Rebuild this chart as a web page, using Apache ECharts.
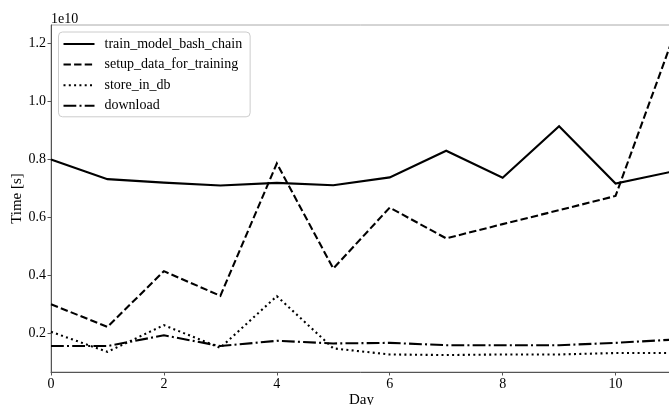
<!DOCTYPE html>
<html>
<head>
<meta charset="utf-8">
<script src="https://cdn.jsdelivr.net/npm/echarts@6/dist/echarts.min.js"></script>
<style>
html,body{margin:0;padding:0;background:#fff;}
#chart{width:669px;height:405px;}
</style>
</head>
<body>
<div id="chart"></div>
<script>
// Values in units of 1e10 seconds
const days = [0,1,2,3,4,5,6,7,8,9,10,11];
const trainModelBashChain = [0.800,0.732,0.720,0.710,0.719,0.711,0.738,0.830,0.737,0.914,0.717,0.758];
const setupDataForTraining = [0.301,0.223,0.415,0.330,0.786,0.424,0.634,0.528,0.577,0.625,0.674,1.209];
const storeInDb = [0.206,0.137,0.229,0.151,0.329,0.149,0.128,0.126,0.128,0.128,0.133,0.133];
const download = [0.157,0.157,0.194,0.157,0.175,0.166,0.168,0.160,0.160,0.160,0.168,0.179];
const seriesNames = ['train_model_bash_chain','setup_data_for_training','store_in_db','download'];
const xTicks = [0,2,4,6,8,10];
const yTicks = [0.2,0.4,0.6,0.8,1.0,1.2];

const FONT = 'Liberation Serif';
const lineTypes = ['solid',[7.4,3.2],[2,3.3],[12.8,3.2,2,3.2]];
const allData = [trainModelBashChain, setupDataForTraining, storeInDb, download];

const chart = echarts.init(document.getElementById('chart'), null, {renderer:'canvas'});
chart.setOption({
  animation:false,
  backgroundColor:'#fff',
  title:{text:'1e10', left:51, top:12, padding:0,
    textStyle:{fontFamily:FONT, fontSize:14, fontWeight:'normal', color:'#000'}},
  grid:{left:51, top:25, right:-3, bottom:33, outerBoundsMode:'none', containLabel:false,
    show:true, borderColor:'#aaa', borderWidth:1, backgroundColor:'transparent'},
  legend:{
    orient:'vertical', left:58.5, top:32, padding:[5,8,4,4],
    backgroundColor:'#fff', borderColor:'#ccc', borderWidth:1, borderRadius:4,
    itemWidth:31, itemHeight:14, itemGap:6.6,
    itemStyle:{opacity:0, color:'rgba(0,0,0,0)', borderWidth:0},
    textStyle:{fontFamily:FONT, fontSize:14, color:'#000', padding:[0,0,0,5]},
    data:seriesNames
  },
  xAxis:{
    type:'value', min:0, max:11,
    name:'Day', nameLocation:'middle', nameGap:21, nameMoveOverlap:false,
    nameTextStyle:{fontFamily:FONT, fontSize:15, color:'#000'},
    axisLine:{show:true, onZero:false, lineStyle:{color:'#555', width:1}},
    axisTick:{show:true, length:3.5, customValues:xTicks, lineStyle:{color:'#555'}},
    axisLabel:{fontFamily:FONT, fontSize:14, color:'#000', margin:5, customValues:xTicks},
    splitLine:{show:false}
  },
  yAxis:{
    type:'value', min:0.0676, max:1.263,
    name:'Time [s]', nameLocation:'middle', nameGap:26, nameRotate:90, nameMoveOverlap:false,
    nameTextStyle:{fontFamily:FONT, fontSize:15, color:'#000'},
    axisLine:{show:true, lineStyle:{color:'#555', width:1}},
    axisTick:{show:true, length:3.5, customValues:yTicks, lineStyle:{color:'#555'}},
    axisLabel:{fontFamily:FONT, fontSize:14, color:'#000', margin:5, customValues:yTicks,
      formatter:v=>v.toFixed(1)},
    splitLine:{show:false}
  },
  series: seriesNames.map((n,i)=>({
    name:n, type:'line', symbol:'none', showSymbol:false,
    data: days.map((d,j)=>[d, allData[i][j]]),
    lineStyle:{color:'#000', width:2.1, type:lineTypes[i], cap:'butt', join:'miter'},
    itemStyle:{color:'#000'}
  }))
});
</script>
</body>
</html>
